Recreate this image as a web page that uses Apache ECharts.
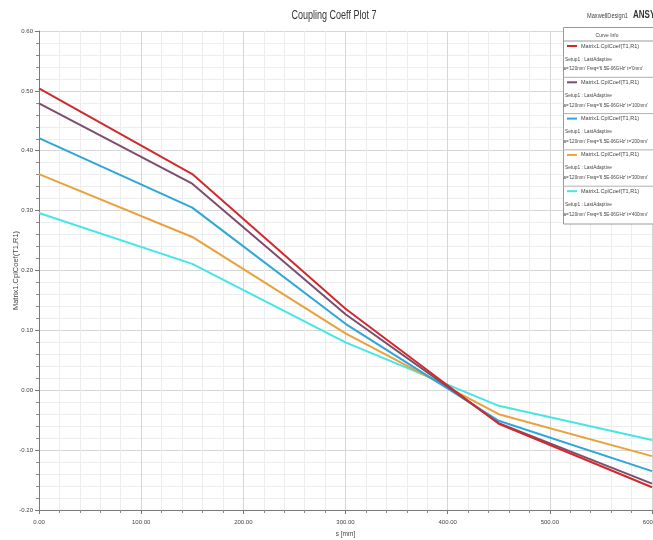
<!DOCTYPE html>
<html><head><meta charset="utf-8">
<script src="https://cdn.jsdelivr.net/npm/echarts/dist/echarts.min.js"></script>
<style>html,body{margin:0;padding:0;background:#fff}#c{width:653px;height:540px}</style>
</head><body><div id="c"></div>
<script>
// ---- data ----
const sValues = [0, 150, 300, 450, 600];
const coefT0   = [0.504, 0.361, 0.136, -0.056, -0.162];
const coefT100 = [0.479, 0.345, 0.127, -0.055, -0.156];
const coefT200 = [0.421, 0.305, 0.111, -0.051, -0.135];
const coefT300 = [0.361, 0.256, 0.095, -0.040, -0.110];
const coefT400 = [0.296, 0.211, 0.080, -0.026, -0.083];
const tLabels = ["0mm", "100mm", "200mm", "300mm", "400mm"];
const seriesColors = ["#d02a2f", "#7d4d6e", "#2fa6d8", "#e9a23b", "#45e6e6"];
const curveName = "Matrix1.CplCoef(T1,R1)";
const setupName = "Setup1 : LastAdaptive";
const paramPrefix = "a='120mm' Freq='6.5E-06GHz' t=";
const chartTitle = "Coupling Coeff Plot 7";
const xName = "s [mm]";
const yName = "Matrix1.CplCoef(T1,R1)";

const allSeries = [coefT0, coefT100, coefT200, coefT300, coefT400];
const FONT = "'Liberation Sans',Arial,sans-serif";

const chart = echarts.init(document.getElementById('c'), null, {renderer: 'canvas'});

function txt(s, x, y, size, sx, opts) {
  opts = opts || {};
  return {type: 'text', z: 101, x: x, y: y, scaleX: sx, scaleY: 1,
    style: {text: s, x: 0, y: 0, fill: opts.fill || '#444',
      font: (opts.weight ? opts.weight + ' ' : '') + size + 'px ' + FONT,
      textAlign: opts.align || 'left', textVerticalAlign: 'middle'}};
}

// legend box built as graphic elements
const lgX = 563, lgY = 27, lgW = 92, entryH = 36.3, headerH = 14;
const g = [];
g.push({type: 'rect', left: lgX, top: lgY, z: 100,
  shape: {width: lgW, height: headerH + entryH * 5 + 1},
  style: {fill: '#ffffff', stroke: '#9a9a9a', lineWidth: 1}});
g.push(txt('Curve Info', lgX + 44, lgY + 8, 5.5, 0.9, {align: 'center'}));
g.push({type: 'line', z: 101, shape: {x1: lgX, y1: lgY + headerH, x2: lgX + lgW, y2: lgY + headerH},
  style: {stroke: '#9a9a9a', lineWidth: 1}});
tLabels.forEach(function (t, i) {
  const y0 = lgY + headerH + i * entryH;
  g.push({type: 'line', z: 101, shape: {x1: lgX + 4, y1: y0 + 5, x2: lgX + 14, y2: y0 + 5},
    style: {stroke: seriesColors[i], lineWidth: 2}});
  g.push(txt(curveName, lgX + 18, y0 + 5, 5.5, 1));
  g.push(txt(setupName, lgX + 2, y0 + 18, 5.5, 0.87));
  g.push(txt(paramPrefix + "'" + t + "'", lgX + 0.5, y0 + 28, 5.2, 0.88));
  if (i < tLabels.length - 1) {
    g.push({type: 'line', z: 101, shape: {x1: lgX, y1: y0 + entryH, x2: lgX + lgW, y2: y0 + entryH},
      style: {stroke: '#b0b0b0', lineWidth: 1}});
  }
});
g.push(txt('MaxwellDesign1', 587, 16, 7.5, 0.75));
g.push(txt('ANSY', 633, 15, 10, 0.8, {weight: 'bold', fill: '#333'}));
g.push(txt(chartTitle, 334, 16, 12, 0.75, {align: 'center', fill: '#333'}));

const fmt2 = function (v) { return (Math.round(v * 100) / 100).toFixed(2); };

chart.setOption({
  animation: false,
  backgroundColor: '#ffffff',
  grid: {left: 39, right: 1, top: 31, bottom: 30, containLabel: false, outerBoundsMode: 'none'},
  xAxis: {
    type: 'value', min: 0, max: 600, interval: 100,
    name: xName, nameLocation: 'middle', nameGap: 21,
    nameTextStyle: {fontFamily: FONT, fontSize: 6.5, color: '#444'},
    axisLine: {show: true, onZero: false, lineStyle: {color: '#7a7a7a', width: 1}},
    axisTick: {show: true, length: 4, lineStyle: {color: '#7a7a7a'}},
    minorTick: {show: true, splitNumber: 5, length: 3, lineStyle: {color: '#8a8a8a'}},
    axisLabel: {fontFamily: FONT, fontSize: 6, color: '#444', margin: 9, formatter: fmt2,
      showMinLabel: true, showMaxLabel: true, hideOverlap: false},
    splitLine: {show: true, lineStyle: {color: '#d6d6d6', width: 1}},
    minorSplitLine: {show: true, lineStyle: {color: '#ededed', width: 1}}
  },
  yAxis: {
    type: 'value', min: -0.2, max: 0.6, interval: 0.1,
    name: yName, nameLocation: 'middle', nameGap: 19, nameRotate: 90, nameMoveOverlap: false,
    nameTextStyle: {fontFamily: FONT, fontSize: 7.5, color: '#444'},
    axisLine: {show: true, onZero: false, lineStyle: {color: '#7a7a7a', width: 1}},
    axisTick: {show: true, length: 4, lineStyle: {color: '#7a7a7a'}},
    minorTick: {show: true, splitNumber: 5, length: 3, lineStyle: {color: '#8a8a8a'}},
    axisLabel: {fontFamily: FONT, fontSize: 6, color: '#444', margin: 6, formatter: fmt2,
      showMinLabel: true, showMaxLabel: true, hideOverlap: false},
    splitLine: {show: true, lineStyle: {color: '#d6d6d6', width: 1}},
    minorSplitLine: {show: true, lineStyle: {color: '#ededed', width: 1}}
  },
  series: allSeries.map(function (vals, i) {
    return {
      type: 'line', name: curveName + ' ' + tLabels[i],
      data: sValues.map(function (s, k) { return [s, vals[k]]; }),
      showSymbol: false, symbol: 'none',
      lineStyle: {color: seriesColors[i], width: 2},
      itemStyle: {color: seriesColors[i]},
      z: 10 - i
    };
  }),
  graphic: g
});
</script>
</body></html>
